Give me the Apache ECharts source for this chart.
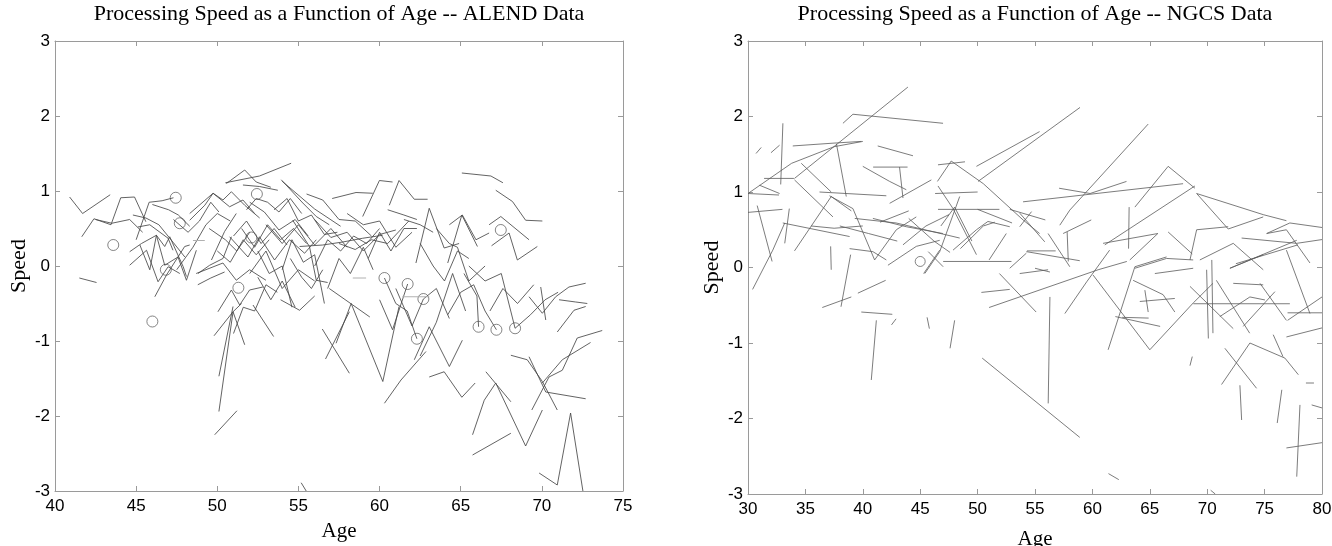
<!DOCTYPE html>
<html><head><meta charset="utf-8">
<script src="https://cdn.jsdelivr.net/npm/echarts@6/dist/echarts.min.js"></script>
<style>html,body{margin:0;padding:0;background:#fff}#c{width:1332px;height:546px}</style>
</head><body><div id="c"></div>
<script>
const alendTitle = 'Processing Speed as a Function of Age -- ALEND Data';
const ngcsTitle = 'Processing Speed as a Function of Age -- NGCS Data';
const xName = 'Age';
const yName = 'Speed';
const alendAgeRange = [40, 75];
const ngcsAgeRange = [30, 80];
const speedRange = [-3, 3];

const alendTracks = [
[[40.9,0.92],[41.7,0.70],[43.4,0.95]],
[[41.65,0.39],[42.4,0.63],[43.45,0.55],[44.05,0.91],[44.9,0.92],[45.6,0.59]],
[[42.5,0.62],[43.5,0.57],[44.6,0.62],[45.4,0.45]],
[[45.0,0.35],[45.8,0.85],[46.6,0.87],[47.3,0.91]],
[[46.0,0.82],[47.0,0.75],[47.6,0.68],[48.3,0.53]],
[[44.8,0.68],[45.6,0.64],[46.4,0.55],[47.3,0.31],[48.0,0.12]],
[[44.6,0.19],[45.33,0.30],[46.25,0.41],[46.76,0.26],[47.07,0.39],[47.9,-0.01],[48.1,-0.14]],
[[45.23,0.28],[45.84,-0.05],[46.25,0.41],[46.76,0.01],[47.58,0.12],[48.1,-0.19],[48.71,0.21]],
[[44.6,0.01],[45.64,0.21],[46.35,-0.21],[46.97,-0.01],[47.69,-0.1]],
[[46.15,-0.41],[46.87,-0.12],[47.99,0.26],[48.3,0.28]],
[[41.5,-0.16],[42.56,-0.22]],
[[45.1,0.52],[45.84,0.55],[46.97,0.37],[47.27,0.21]],
[[47.3,0.62],[48.2,0.45],[48.9,0.6],[49.6,0.85],[50.1,0.72]],
[[48.3,0.61],[49.23,0.81],[49.74,0.97],[50.35,0.88],[50.87,0.99],[51.69,0.81],[52.61,0.64]],
[[48.81,-0.1],[49.53,0.01],[50.35,0.1],[50.87,0.39]],
[[48.8,-0.25],[49.6,-0.16],[50.45,-0.08]],
[[49.64,0.08],[50.45,0.46],[51.17,0.70]],
[[50.04,-0.61],[50.87,-0.32],[51.38,-0.52],[51.99,-0.32],[52.81,-0.28]],
[[49.84,-2.25],[51.21,-1.93]],
[[50.1,-1.94],[50.97,-0.61],[51.5,-0.5]],
[[50.1,-1.47],[50.97,-0.54]],
[[49.8,-0.93],[50.97,-0.61],[51.69,-1.05]],
[[52.2,-0.52],[53.47,-0.94]],
[[56.47,-0.84],[58.14,-1.43]],
[[56.67,-1.24],[58.14,-0.61]],
[[55.17,-2.89],[55.48,-3.0]],
[[57.32,-1.03],[58.25,-0.5],[60.2,-1.54],[61.2,-0.54]],
[[60.3,-1.83],[61.32,-1.52],[62.86,-1.14]],
[[62.14,-1.25],[63.06,-0.81],[64.3,-1.34],[65.1,-0.99]],
[[63.06,-1.48],[63.98,-1.41],[65.07,-1.75],[65.89,-1.56]],
[[66.55,-1.41],[68.09,-1.81]],
[[65.73,-2.52],[68.09,-2.23]],
[[65.73,-2.25],[66.45,-1.79],[67.16,-1.56],[69.0,-2.4],[70.03,-1.92]],
[[68.09,-1.19],[69.1,-1.25],[70.03,-1.54],[70.95,-1.92]],
[[69.21,-1.21],[70.24,-1.68],[72.7,-1.77]],
[[69.38,-1.92],[70.44,-1.48],[71.26,-1.39],[72.18,-0.96],[73.72,-0.86]],
[[70.03,-1.56],[71.26,-1.25],[73.0,-1.02]],
[[69.83,-2.76],[70.95,-2.92],[71.77,-1.96],[72.53,-3.0]],
[[65.07,1.24],[66.86,1.2],[67.6,1.11]],
[[67.16,1.01],[68.19,0.86],[69.0,0.61],[70.03,0.6]],
[[66.75,0.55],[67.47,0.66],[69.21,0.35]],
[[66.9,0.27],[67.98,0.44],[68.49,0.08],[69.72,0.26]],
[[64.3,0.55],[65.1,0.68],[65.94,0.35],[66.75,0.44]],
[[64.2,0.04],[65.07,0.68],[66.03,0.26]],
[[62.24,0.04],[63.06,0.77],[63.98,0.24],[64.9,0.3]],
[[57.08,0.9],[58.55,0.98],[59.58,0.97]],
[[58.96,0.66],[59.99,1.14],[60.8,1.12]],
[[60.6,0.81],[61.2,1.14],[62.14,0.89],[62.96,0.89]],
[[50.56,1.1],[51.69,1.28],[52.4,1.12],[53.3,1.05]],
[[51.58,1.08],[52.6,1.06],[53.73,1.01]],
[[50.5,1.11],[52.6,1.2],[54.55,1.37]],
[[53.94,1.15],[55.27,0.84],[56.1,0.66],[56.9,0.55]],
[[48.3,0.7],[49.74,0.97],[50.76,0.79],[51.58,0.88],[52.3,0.7]],
[[48.7,-0.1],[50.35,0.04],[51.17,-0.19],[51.99,-0.05],[53.0,-0.19]],
[[50.76,0.39],[51.89,0.12],[52.6,0.39],[53.53,0.08],[54.45,0.35],[55.38,0.17],[56.1,0.35]],
[[55.07,0.26],[56.5,0.28],[57.73,0.32],[58.96,0.37],[60.19,0.41]],
[[54.65,0.61],[55.68,0.26],[56.1,-0.19],[56.8,-0.22]],
[[51.0,0.4],[51.8,0.6],[52.7,0.3],[53.5,0.5],[54.3,0.28]],
[[52.0,0.85],[52.9,0.72],[53.8,0.48],[54.8,0.62],[55.6,0.4]],
[[53.0,0.55],[54.0,0.3],[55.0,0.55],[56.0,0.28],[57.0,0.5],[58.0,0.25]],
[[56.0,0.62],[57.0,0.38],[58.0,0.45],[59.0,0.2],[60.0,0.42],[61.0,0.48]],
[[57.5,0.3],[58.5,0.22],[59.5,0.35],[60.5,0.3],[61.8,0.6]],
[[55.5,0.96],[56.5,0.88],[57.5,0.62],[58.5,0.6],[59.5,0.4]],
[[54.0,1.13],[56.0,0.76],[57.6,0.53]],
[[53.9,-0.45],[55.07,-0.59],[56.0,-0.4]],
[[52.0,-0.1],[53.0,0.2],[54.0,-0.3],[55.0,-0.05],[56.0,-0.2]],
[[54.5,0.1],[55.2,-0.15],[55.8,-0.3],[56.5,-0.05]],
[[51.0,-0.9],[51.6,-0.55],[52.3,-0.6],[53.0,-0.25],[53.7,-0.35]],
[[52.5,-0.15],[53.3,-0.45],[54.0,-0.2],[54.8,-0.55]],
[[58.0,0.7],[59.0,0.55],[60.0,0.6],[61.0,0.25],[62.0,0.45]],
[[59.3,0.1],[60.0,0.45],[60.7,0.2],[61.5,0.5],[62.3,0.5]],
[[56.8,-0.3],[57.5,0.1],[58.2,-0.1],[59.0,0.25],[59.6,-0.05]],
[[60.3,-0.16],[61.0,-0.5],[61.7,-0.6],[62.3,-0.97]],
[[60.0,-0.45],[60.8,-0.85],[61.73,-0.24]],
[[61.0,-0.3],[62.0,-0.8],[62.7,-0.44],[63.5,-0.3],[64.3,-0.7]],
[[62.5,-1.2],[63.5,-0.75],[64.5,-0.1],[65.3,-0.6]],
[[64.2,-0.65],[65.0,-0.35],[65.8,-0.25],[66.5,-0.6],[67.2,-0.85]],
[[65.2,-0.1],[66.0,-0.4],[66.1,-0.81]],
[[65.5,0.0],[66.5,-0.2],[67.5,-0.1],[68.35,-0.83]],
[[66.8,-0.6],[67.6,-0.3],[68.5,-0.5],[69.5,-0.25]],
[[68.35,-0.83],[69.3,-0.65],[70.2,-0.45],[71.0,-0.35]],
[[69.21,-0.41],[70.03,-0.63],[70.85,-0.41],[71.67,-0.28],[72.7,-0.23]],
[[69.93,-0.28],[70.24,-0.72]],
[[71.06,-0.45],[72.09,-0.48],[72.8,-0.5]],
[[70.95,-0.88],[71.98,-0.59],[72.7,-0.54]],
[[56.9,-0.3],[58.35,-0.52],[59.4,-0.68]],
[[62.5,0.3],[63.3,0.0],[64.0,-0.2],[64.8,0.2],[65.5,0.1]],
[[63.5,0.5],[64.3,0.3],[64.8,0.25],[65.5,-0.2],[66.5,0.0]],
[[61.5,0.62],[62.5,0.55],[63.3,0.45]],
[[60.5,0.75],[61.5,0.68],[62.3,0.62]],
[[52.5,0.2],[53.2,-0.1],[54.0,0.0],[54.6,-0.55]],
[[49.5,0.5],[50.5,0.35],[51.2,0.2],[52.0,0.45]],
[[47.5,-0.05],[48.5,0.25],[49.3,0.55],[50.0,0.7],[50.8,0.6]],
[[51.5,0.5],[52.3,0.25],[53.1,0.55],[53.9,0.35],[54.7,0.5],[55.5,0.3]],
[[53.5,0.75],[54.3,0.9],[55.0,0.6],[55.8,0.68],[56.6,0.42],[57.4,0.45]],
[[56.0,0.0],[56.8,0.35],[57.6,0.2],[58.4,0.4],[59.2,0.3],[60.0,0.5]],
[[50.0,0.2],[50.8,0.05],[51.6,0.35],[52.4,0.15],[53.2,0.35]],
[[54.0,-0.05],[54.6,0.35],[55.3,0.05],[56.0,0.15],[56.6,-0.5]],
[[51.8,0.75],[52.4,0.9],[53.1,0.85],[53.8,0.72],[54.5,0.9],[55.2,0.7]]
];
const alendFaintTracks = [
[[48.5,0.34],[49.23,0.34]],
[[58.35,-0.16],[59.17,-0.16]],
[[61.4,-0.41],[63.06,-0.41]]
];
const alendCircles = [
[43.59,0.28],[46.0,-0.74],[46.83,-0.05],[47.44,0.91],[47.69,0.57],[51.3,-0.29],
[52.1,0.38],[52.44,0.96],[60.3,-0.16],[61.73,-0.24],[62.3,-0.97],[62.7,-0.44],
[66.1,-0.81],[67.2,-0.85],[67.47,0.48],[68.35,-0.83]
];

const ngcsTracks = [
[[30,0.98],[33.8,1.38],[37.5,1.6],[40,1.67]],
[[34.05,1.18],[43.93,2.39]],
[[38.27,1.91],[39.14,2.03],[46.99,1.91]],
[[30.7,1.51],[31.15,1.59]],
[[32.0,1.52],[32.75,1.62]],
[[33.04,1.91],[32.85,1.1]],
[[33.9,1.61],[37.7,1.65],[39.87,1.67]],
[[34.05,1.16],[37.4,0.67]],
[[37.7,1.64],[38.56,0.94]],
[[41.3,1.61],[44.37,1.48]],
[[40.9,1.33],[43.9,1.33]],
[[43.2,1.33],[43.5,0.92]],
[[30,0.73],[33.0,0.77]],
[[30.4,-0.29],[32.16,0.23],[33.2,0.59]],
[[30.8,0.82],[32.1,0.08]],
[[30,0.98],[32.7,0.96]],
[[31.4,1.18],[34.0,1.18]],
[[33.03,0.59],[38.85,0.41]],
[[34.05,0.22],[37.25,0.94],[39.0,0.75]],
[[39.3,0.65],[42.9,0.59],[48.44,0.39]],
[[46.55,1.08],[47.86,0.78],[49.9,0.17]],
[[46.5,1.14],[47.7,1.41],[50.5,1.11],[53.96,0.63],[55.4,0.45]],
[[49.9,1.34],[55.4,1.8]],
[[50.04,1.14],[58.92,2.12]],
[[46.55,0.77],[51.9,0.77]],
[[47.0,0.08],[52.95,0.08]],
[[36.47,-0.53],[39.0,-0.39]],
[[39.57,-0.34],[41.99,-0.17]],
[[38.1,-0.52],[38.94,0.17]],
[[39.87,-0.59],[42.57,-0.62]],
[[40.74,-1.49],[41.18,-0.7]],
[[42.5,-0.76],[42.9,-0.68]],
[[45.6,-0.66],[45.8,-0.81]],
[[47.6,-1.07],[48.0,-0.70]],
[[50.4,-1.2],[58.9,-2.25]],
[[50.33,-0.33],[52.8,-0.29]],
[[37.2,0.28],[37.25,-0.03]],
[[45.3,-0.08],[46.7,0.23]],
[[51.0,-0.53],[60.5,-0.03],[63.0,0.08]],
[[51.9,-0.08],[55.1,-0.59]],
[[56.3,-0.39],[56.15,-1.8]],
[[57.6,-0.61],[59.5,-0.19],[61.5,0.23]],
[[60.06,-0.1],[65.0,-1.09],[68.78,-0.47],[70.5,-0.21]],
[[61.37,-1.09],[63.7,0.01],[66.46,0.14]],
[[62.0,-0.65],[65.9,-0.78]],
[[62.6,-0.66],[64.9,-0.67]],
[[68.5,-0.25],[72.27,-0.81]],
[[69.95,-0.03],[70.1,-0.94]],
[[70.4,0.1],[70.5,-0.87]],
[[68.8,-0.48],[77.2,-0.48]],
[[70.8,-0.17],[73.7,-0.87]],
[[71.54,-1.07],[74.3,-1.6]],
[[71.25,-1.55],[73.72,-1.0],[76.77,-1.2],[77.94,-1.42]],
[[72.85,-1.56],[73.0,-2.02]],
[[76.5,-1.62],[76.1,-2.06]],
[[78.08,-1.82],[77.8,-2.77]],
[[76.9,-2.39],[80,-2.32]],
[[79.1,-1.82],[80,-1.86]],
[[78.6,-1.53],[79.3,-1.53]],
[[76.9,-0.92],[80,-0.8]],
[[77.0,-0.6],[80,-0.6]],
[[77.0,-0.7],[80,-0.39]],
[[76.9,0.23],[78.95,-0.61]],
[[61.4,-2.73],[62.3,-2.81]],
[[70.3,-2.95],[70.7,-3.0]],
[[68.5,-1.3],[68.7,-1.18]],
[[53.96,0.87],[67.9,1.11]],
[[57.1,1.05],[59.8,0.98],[62.97,1.14]],
[[57.16,0.56],[58.03,0.76],[64.86,1.9]],
[[63.7,0.8],[66.6,1.34],[68.93,1.05]],
[[61.08,0.3],[68.93,1.08]],
[[69.08,0.98],[71.83,0.51],[74.88,0.67]],
[[69.08,0.98],[74.88,0.70],[76.9,0.62]],
[[75.18,0.45],[77.2,0.59],[80,0.53]],
[[52.8,0.77],[55.9,0.63]],
[[53.67,0.54],[54.7,0.74]],
[[53.67,0.72],[55.85,0.34]],
[[54.25,0.21],[58.9,0.09]],
[[56.14,0.45],[58.03,0.01]],
[[57.45,0.45],[59.9,0.63]],
[[60.93,0.32],[65.7,0.45]],
[[63.2,0.8],[63.15,0.25]],
[[63.26,0.1],[65.7,0.45]],
[[63.7,-0.01],[66.46,0.12],[68.78,0.10]],
[[66.6,0.47],[68.7,0.18]],
[[68.5,0.1],[69.08,0.5],[71.83,0.54]],
[[69.36,0.1],[72.27,0.32],[74.88,-0.03]],
[[73.0,0.39],[77.8,0.32],[80,0.37]],
[[71.98,-0.01],[77.8,0.36]],
[[72.5,0.05],[77.9,0.3]],
[[75.18,0.45],[76.9,0.5],[78.95,0.06]],
[[53.67,-0.08],[56.14,-0.03]],
[[63.55,-0.17],[66.16,-0.36],[67.18,-0.59]],
[[64.57,-0.3],[64.86,-0.59]],
[[64.13,-0.45],[67.18,-0.41]],
[[65.44,-0.08],[68.78,-0.01]],
[[71.98,-0.01],[74.88,0.17]],
[[72.27,-0.21],[74.88,-0.23]],
[[71.1,-0.65],[73.72,-0.39],[75.03,-0.43]],
[[73.14,-0.78],[75.9,-0.32]],
[[74.6,-0.21],[76.9,-0.7]],
[[75.75,-0.89],[76.6,-1.18]],
[[55.0,-0.01],[56.3,-0.06]],
[[57.8,0.47],[57.9,0.08]],
[[54.3,0.22],[56.8,0.22]],
[[52.8,-0.01],[54.25,0.19]],
[[34.64,1.38],[37.25,1.0]],
[[36.23,1.0],[42.05,0.95]],
[[37.1,0.95],[39.14,0.78],[41.03,0.1],[42.92,0.5],[44.66,0.67]],
[[40.0,1.34],[42.34,1.14],[43.79,1.03]],
[[42.34,0.85],[45.97,1.16]],
[[40.88,0.65],[43.79,0.54],[46.98,0.45]],
[[42.19,0.03],[44.66,0.28],[46.7,0.36]],
[[45.4,-0.08],[46.7,0.21],[48.44,0.94]],
[[47.86,0.23],[49.9,0.5],[50.9,0.61],[52.8,0.54]],
[[45.7,0.21],[47.0,0.01]],
[[38.85,0.25],[40.88,0.21],[42.05,0.1]],
[[33.6,0.78],[33.2,0.32]],
[[31.0,1.09],[32.75,0.98]],
[[46.3,0.98],[50.0,1.0]],
[[50.0,0.77],[53.0,0.59]],
[[46.55,1.36],[48.9,1.4]],
[[51.0,0.1],[52.5,0.45]],
[[41.5,0.6],[44.0,0.75]],
[[43.5,0.3],[45.5,0.55],[47.5,0.7]],
[[44.0,0.65],[46.2,0.35],[47.6,0.2]],
[[38.0,0.55],[40.5,0.45],[43.0,0.35]],
[[35.5,0.55],[37.5,0.52],[40.0,0.55]],
[[46.8,0.55],[48.0,0.8],[49.5,0.35]],
[[48.5,0.25],[50.5,0.55],[51.5,0.6]]
];
const ngcsCircles = [[45.0,0.08]];

const serif = '"Liberation Serif","DejaVu Serif",serif';
const sans = '"Liberation Sans",Arial,sans-serif';
const axisGray = '#9a9a9a';

function trackSeries(tracks, gi, color, width) {
  return tracks.map(t => ({
    type: 'line', xAxisIndex: gi, yAxisIndex: gi, data: t, symbol: 'none',
    silent: true, animation: false, clip: true,
    lineStyle: { color: color, width: width }
  }));
}
function circleSeries(pts, gi, size) {
  return {
    type: 'scatter', xAxisIndex: gi, yAxisIndex: gi, data: pts, symbol: 'circle',
    symbolSize: size, silent: true, animation: false,
    itemStyle: { color: 'rgba(0,0,0,0)', borderColor: '#555', borderWidth: 0.9 }
  };
}
function xAx(gi, range, pos, labels, name, gap) {
  return {
    type: 'value', gridIndex: gi, min: range[0], max: range[1], interval: 5, position: pos,
    name: name, nameLocation: 'middle', nameGap: gap,
    nameTextStyle: { fontFamily: serif, fontSize: 21, color: '#000' },
    axisLine: { show: true, onZero: false, lineStyle: { color: axisGray, width: 1 } },
    axisTick: { show: true, inside: true, length: 5, lineStyle: { color: axisGray } },
    axisLabel: { show: labels, fontFamily: sans, fontSize: 17, color: '#000', margin: 7 },
    splitLine: { show: false }
  };
}
function yAx(gi, pos, labels, name) {
  return {
    type: 'value', gridIndex: gi, min: speedRange[0], max: speedRange[1], interval: 1, position: pos,
    name: name, nameLocation: 'middle', nameGap: 25, nameRotate: 90,
    nameTextStyle: { fontFamily: serif, fontSize: 22, color: '#000' },
    axisLine: { show: true, onZero: false, lineStyle: { color: axisGray, width: 1 } },
    axisTick: { show: true, inside: true, length: 5, lineStyle: { color: axisGray } },
    axisLabel: { show: labels, fontFamily: sans, fontSize: 17, color: '#000', margin: 5 },
    splitLine: { show: false }
  };
}

const chart = echarts.init(document.getElementById('c'), null, { renderer: 'canvas' });
chart.setOption({
  animation: false,
  backgroundColor: '#fff',
  grid: [
    { left: 55, top: 41, width: 568, height: 450, outerBoundsMode: 'none', containLabel: false },
    { left: 748, top: 41, width: 574, height: 453, outerBoundsMode: 'none', containLabel: false }
  ],
  xAxis: [
    xAx(0, alendAgeRange, 'bottom', true, xName, 30),
    xAx(1, ngcsAgeRange, 'bottom', true, xName, 35),
    xAx(0, alendAgeRange, 'top', false, '', 20),
    xAx(1, ngcsAgeRange, 'top', false, '', 20)
  ],
  yAxis: [
    yAx(0, 'left', true, yName),
    yAx(1, 'left', true, yName),
    yAx(0, 'right', false, ''),
    yAx(1, 'right', false, '')
  ],
  graphic: [
    { type: 'text', x: 339, y: 3, silent: true,
      style: { text: alendTitle, font: '22px ' + serif, fill: '#000', textAlign: 'center', textVerticalAlign: 'top' } },
    { type: 'text', x: 1035, y: 3, silent: true,
      style: { text: ngcsTitle, font: '22px ' + serif, fill: '#000', textAlign: 'center', textVerticalAlign: 'top' } }
  ],
  series: [].concat(
    trackSeries(alendTracks, 0, '#474747', 0.85),
    trackSeries(alendFaintTracks, 0, '#b0b0b0', 1),
    [circleSeries(alendCircles, 0, 11)],
    trackSeries(ngcsTracks, 1, '#5a5a5a', 0.8),
    [circleSeries(ngcsCircles, 1, 10)]
  )
});
</script>
</body></html>
